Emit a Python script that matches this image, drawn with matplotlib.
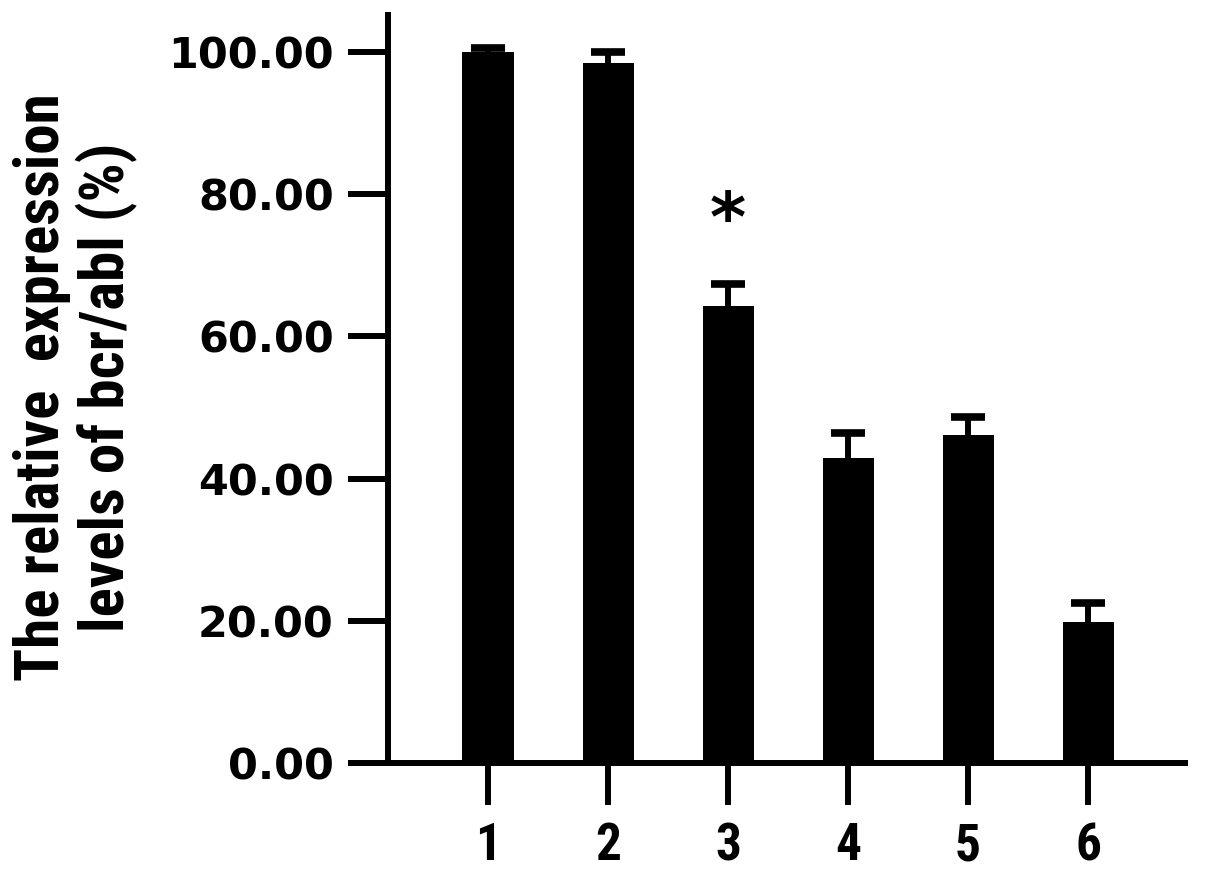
import matplotlib
matplotlib.use("Agg")
import matplotlib.pyplot as plt
from matplotlib import font_manager

# data
groups = ["1", "2", "3", "4", "5", "6"]
means = [100.0, 98.5, 64.3, 42.9, 46.1, 19.8]
errors = [0.6, 1.5, 3.1, 3.5, 2.6, 2.7]
significant = [False, False, True, False, False, False]
y_ticks = [0, 20, 40, 60, 80, 100]

# a narrow bold face for the axis title, if there is one
names = {f.name for f in font_manager.fontManager.ttflist}
narrow, label_size = "DejaVu Sans", 33.5
for cand in ["Liberation Sans Narrow", "DejaVu Sans Condensed",
             "Roboto Condensed", "Open Sans Condensed"]:
    if cand in names:
        narrow, label_size = cand, 44
        break

fig = plt.figure(figsize=(12.05, 8.72), dpi=100)
ax = fig.add_axes([0.322, 0.125, 0.664, 0.861])

x = list(range(1, len(groups) + 1))
ax.bar(x, means, width=0.425, color="black", edgecolor="none", zorder=2)
ax.errorbar(x, means, yerr=errors, fmt="none", ecolor="black",
            elinewidth=4.3, capsize=12, capthick=5.5, zorder=1)

for xi, m, e, s in zip(x, means, errors, significant):
    if s:
        ax.text(xi, m + e + 4.0, "*", ha="center", va="bottom",
                fontsize=50, fontweight="bold", family="DejaVu Sans")

ax.set_xlim(0.167, 6.833)
ax.set_ylim(0, 105.6)
ax.set_yticks(y_ticks)
ax.set_yticklabels(["%.2f" % v for v in y_ticks], fontsize=31,
                   fontweight="bold", family="DejaVu Sans")
ax.set_xticks(x)
ax.set_xticklabels(groups, fontsize=37, fontweight="bold", family=narrow)

for side in ["top", "right"]:
    ax.spines[side].set_visible(False)
for side in ["left", "bottom"]:
    ax.spines[side].set_linewidth(4.3)
    ax.spines[side].set_capstyle("butt")

ax.tick_params(axis="y", direction="out", length=29, width=4.3, pad=10)
ax.tick_params(axis="x", direction="out", length=30, width=4.3, pad=12)

ax.set_ylabel("The relative  expression\nlevels of bcr/abl (%)",
              fontsize=label_size, fontweight="bold", family=narrow,
              linespacing=1.1, labelpad=22)

fig.savefig("out.png", dpi=100)
